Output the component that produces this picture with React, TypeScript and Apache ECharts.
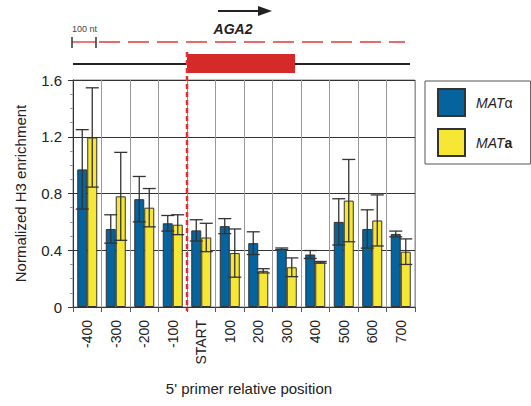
import React, { useEffect, useRef } from "react";
import * as echarts from "echarts";

const categories = ["-400", "-300", "-200", "-100", "START", "100", "200", "300", "400", "500", "600", "700"];
const alphaValues = [0.97, 0.55, 0.76, 0.59, 0.54, 0.57, 0.45, 0.41, 0.37, 0.6, 0.55, 0.515];
const alphaErrors = [0.28, 0.1, 0.16, 0.055, 0.075, 0.053, 0.08, 0.006, 0.028, 0.163, 0.135, 0.02];
const aValues = [1.195, 0.78, 0.7, 0.58, 0.49, 0.38, 0.255, 0.28, 0.315, 0.75, 0.61, 0.39];
const aErrors = [0.35, 0.31, 0.135, 0.07, 0.1, 0.17, 0.015, 0.066, 0.006, 0.29, 0.18, 0.09];
const yTicks = [0, 0.4, 0.8, 1.2, 1.6];

const BLUE = "#05639e";
const YELLOW = "#f7e735";
const RED = "#d62a2a";
const FONT = "Liberation Sans, Arial, sans-serif";

function errData(vals: number[], errs: number[]) {
  return vals.map((v, i) => [i, v - errs[i], v + errs[i]]);
}

function errSeries(name: string, vals: number[], errs: number[], offset: number) {
  return {
    type: "custom",
    name: name + " err",
    z: 5,
    silent: true,
    data: errData(vals, errs),
    encode: { x: 0, y: [1, 2] },
    renderItem: (params: any, api: any) => {
      const i = api.value(0);
      const lo = api.coord([i, api.value(1)]);
      const hi = api.coord([i, api.value(2)]);
      const x = lo[0] + offset;
      const cap = 6.5;
      const style = { stroke: "#333", lineWidth: 1.3 };
      return {
        type: "group",
        children: [
          { type: "line", shape: { x1: x, y1: lo[1], x2: x, y2: hi[1] }, style },
          { type: "line", shape: { x1: x - cap, y1: lo[1], x2: x + cap, y2: lo[1] }, style },
          { type: "line", shape: { x1: x - cap, y1: hi[1], x2: x + cap, y2: hi[1] }, style },
        ],
      };
    },
  };
}

export default function App() {
  const ref = useRef<HTMLDivElement>(null);
  useEffect(() => {
    if (!ref.current) return;
    document.body.style.margin = "0";
    const chart = echarts.init(ref.current, undefined, { renderer: "svg" });
    const option: any = {
      animation: false,
      textStyle: { fontFamily: FONT },
      grid: { left: 73, right: 116, top: 80, bottom: 99, show: true, borderColor: "#888", borderWidth: 1 },
      legend: {
        orient: "vertical",
        left: 425,
        top: 81,
        icon: "rect",
        itemWidth: 27,
        itemHeight: 27,
        itemGap: 11,
        padding: [7, 18, 7, 12],
        borderColor: "#555",
        borderWidth: 1,
        data: ["MATα", "MATa"],
        formatter: (n: string) => (n === "MATα" ? "{i|MAT}{g|α}" : "{i|MAT}{b|a}"),
        textStyle: {
          padding: [0, 0, 0, 6],
          rich: {
            i: { fontStyle: "italic", fontSize: 14, color: "#222", fontFamily: FONT },
            g: { fontSize: 14, color: "#222", fontFamily: FONT },
            b: { fontWeight: "bold", fontSize: 14, color: "#222", fontFamily: FONT },
          },
        },
      },
      xAxis: {
        type: "category",
        data: categories,
        name: "5' primer relative position",
        nameLocation: "middle",
        nameGap: 74,
        nameTextStyle: { fontSize: 15, color: "#222", fontFamily: FONT, padding: [0, 0, 0, 10] },
        axisLine: { lineStyle: { color: "#333", width: 1 } },
        axisTick: { show: true, length: 5, lineStyle: { color: "#555" } },
        axisLabel: { rotate: 90, fontSize: 14, color: "#222", fontFamily: FONT, margin: 13 },
        splitLine: { show: true, lineStyle: { color: "#999", width: 1 } },
      },
      yAxis: {
        type: "value",
        min: 0,
        max: 1.6,
        interval: 0.4,
        name: "Normalized H3 enrichment",
        nameLocation: "middle",
        nameGap: 45,
        nameTextStyle: { fontSize: 15, color: "#222", fontFamily: FONT },
        axisLine: { show: true, lineStyle: { color: "#333", width: 1 } },
        axisTick: { show: true, length: 5, lineStyle: { color: "#333" } },
        minorTick: { show: true, splitNumber: 4, length: 3, lineStyle: { color: "#999" } },
        axisLabel: {
          fontSize: 15,
          color: "#222",
          fontFamily: FONT,
          margin: 11,
          formatter: (v: number) => {
            const t = yTicks.find((x) => Math.abs(x - v) < 1e-6);
            return t === 0 ? "0" : (t ?? v).toFixed(1);
          },
        },
        splitLine: { show: true, lineStyle: { color: "#333", width: 1 } },
      },
      series: [
        {
          type: "bar",
          name: "MATα",
          data: alphaValues,
          barWidth: 10,
          barGap: "0%",
          itemStyle: { color: BLUE, borderColor: "#333", borderWidth: 1 },
        },
        {
          type: "bar",
          name: "MATa",
          data: aValues,
          barWidth: 10,
          barGap: "0%",
          itemStyle: { color: YELLOW, borderColor: "#333", borderWidth: 1 },
        },
        errSeries("MATα", alphaValues, alphaErrors, -5),
        errSeries("MATa", aValues, aErrors, 5),
      ],
    };
    chart.setOption(option);

    const p3 = chart.convertToPixel({ xAxisIndex: 0 }, 3) as number;
    const p4 = chart.convertToPixel({ xAxisIndex: 0 }, 4) as number;
    const startX = (p3 + p4) / 2;
    const baseY = chart.convertToPixel({ yAxisIndex: 0 }, 0) as number;

    chart.setOption({
      graphic: [
        // arrow
        { type: "line", shape: { x1: 218, y1: 11, x2: 262, y2: 11 }, style: { stroke: "#222", lineWidth: 2 } },
        { type: "polygon", shape: { points: [[258, 6], [272, 11], [258, 16]] }, style: { fill: "#222" } },
        {
          type: "text",
          x: 233,
          y: 29,
          style: { text: "AGA2", fontSize: 14, fontWeight: "bold", fontStyle: "italic", fill: "#222", align: "center", verticalAlign: "middle", fontFamily: FONT },
        },
        {
          type: "text",
          x: 72,
          y: 29,
          style: { text: "100 nt", fontSize: 9, fill: "#444", align: "left", verticalAlign: "middle", fontFamily: FONT },
        },
        // scale bar
        { type: "line", shape: { x1: 72, y1: 42, x2: 96, y2: 42 }, style: { stroke: "#e05050", lineWidth: 1.5 } },
        { type: "line", shape: { x1: 72, y1: 37, x2: 72, y2: 48 }, style: { stroke: "#333", lineWidth: 1.5 } },
        { type: "line", shape: { x1: 96, y1: 37, x2: 96, y2: 48 }, style: { stroke: "#333", lineWidth: 1.5 } },
        { type: "line", shape: { x1: 99, y1: 42, x2: 405, y2: 42 }, style: { stroke: "#e03a3a", lineWidth: 1.5, lineDash: [21, 8] } },
        // gene line
        { type: "line", shape: { x1: 73, y1: 64, x2: 410, y2: 64 }, style: { stroke: "#222", lineWidth: 2 } },
        { type: "rect", shape: { x: startX, y: 54, width: 108, height: 19 }, style: { fill: RED } },
        // start dashed line
        { type: "line", z: 10, shape: { x1: startX, y1: 52, x2: startX, y2: baseY + 4 }, style: { stroke: "#e03030", lineWidth: 2.5, lineDash: [5, 3] } },
      ],
    });

    return () => chart.dispose();
  }, []);
  return <div ref={ref} style={{ width: 531, height: 406 }} />;
}
